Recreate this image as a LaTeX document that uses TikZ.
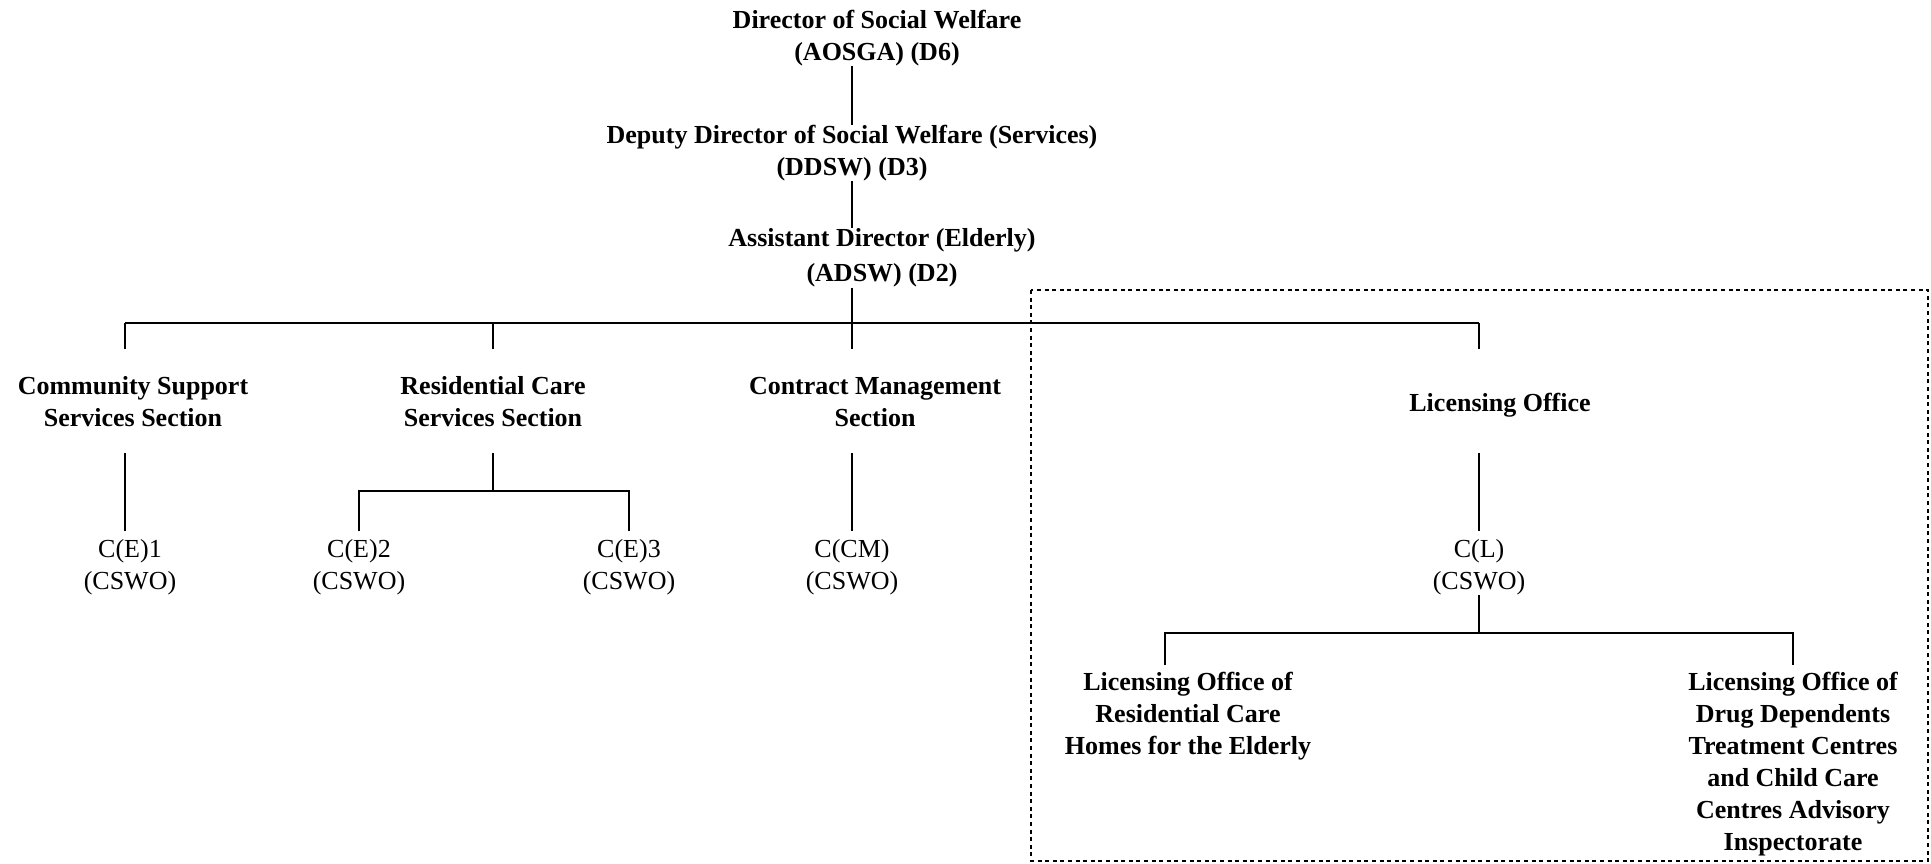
\documentclass[tikz,border=0pt]{standalone}
\usepackage{fontspec}
\setmainfont{Liberation Serif}
\usepackage{tikz}

\begin{document}
\begin{tikzpicture}
    [
        x=0.5pt, y=-0.5pt,
        every node/.style={
            align=center, inner sep=0pt,
            font=\fontsize{13}{16}\selectfont
        },
        head/.style={font=\fontsize{13}{16}\selectfont\bfseries},
        link/.style={line width=0.85pt},
        frame/.style={line width=0.6pt, dash pattern=on 2pt off 1.8pt}
    ]
    \useasboundingbox (0,0) rectangle (1931,863);

    % levels of the connectors
    \coordinate (busA) at (0,323);
    \coordinate (dropA) at (0,349);
    \coordinate (stemA) at (0,453);
    \coordinate (subA) at (0,491);
    \coordinate (stemB) at (0,531);
    \coordinate (csline) at (125,0);

    % directors
    \node[head] (dir) at (877,38) {Director of Social Welfare\\(AOSGA) (D6)};
    \node[head] (dep) at (852,153) {Deputy Director of Social Welfare (Services)\\(DDSW) (D3)};
    \node[head] (asst) at (882,258) {Assistant Director (Elderly)\\[1.5pt](ADSW) (D2)};

    % sections
    \node[head] (css) at (133,402) {Community Support\\Services Section};
    \node[head] (rcs) at (493,402) {Residential Care\\Services Section};
    \node[head] (cms) at (875,402) {Contract Management\\Section};
    \node[head] (lic) at (1500,405) {Licensing Office};

    % posts
    \node (ce1) at (130,567) {C(E)1\\(CSWO)};
    \node (ce2) at (359,567) {C(E)2\\(CSWO)};
    \node (ce3) at (629,567) {C(E)3\\(CSWO)};
    \node (ccm) at (852,567) {C(CM)\\(CSWO)};
    \node (cl) at (1479,567) {C(L)\\(CSWO)};

    % licensing offices
    \node[head] (lorc) at (1188,716)
        {Licensing Office of\\Residential Care\\Homes for the Elderly};
    \node[head] (lodd) at (1793,764)
        {Licensing Office of\\Drug Dependents\\Treatment Centres\\and Child Care\\Centres Advisory\\Inspectorate};

    % top chain
    \draw[link] (dep.north) -- (dep.north |- dir.south);
    \draw[link] (dep.south) -- (dep.south |- asst.north);
    \draw[link] (asst.south -| ccm) -- (ccm |- dropA);

    % main bus
    \draw[link] (csline |- busA) -- (cl |- busA);
    \foreach \n in {csline, rcs, cl}
        \draw[link] (\n |- busA) -- (\n |- dropA);

    % sections to posts
    \foreach \n in {csline, ccm, cl}
        \draw[link] (\n |- stemA) -- (\n |- stemB);
    \draw[link] (rcs |- stemA) -- (rcs |- subA);
    \draw[link] (ce2 |- stemB) -- (ce2 |- subA) -- (ce3 |- subA) -- (ce3 |- stemB);

    % licensing branch
    \coordinate (jl) at (1165,633);
    \coordinate (jr) at (1793,633);
    \draw[link] (cl.south) -- (cl.south |- jl);
    \draw[link] (jl) ++(0,32) -- (jl) -- (jr) -- ++(0,32);

    % licensing frame
    \draw[frame] (1031,290) rectangle (1928,861);
\end{tikzpicture}
\end{document}
